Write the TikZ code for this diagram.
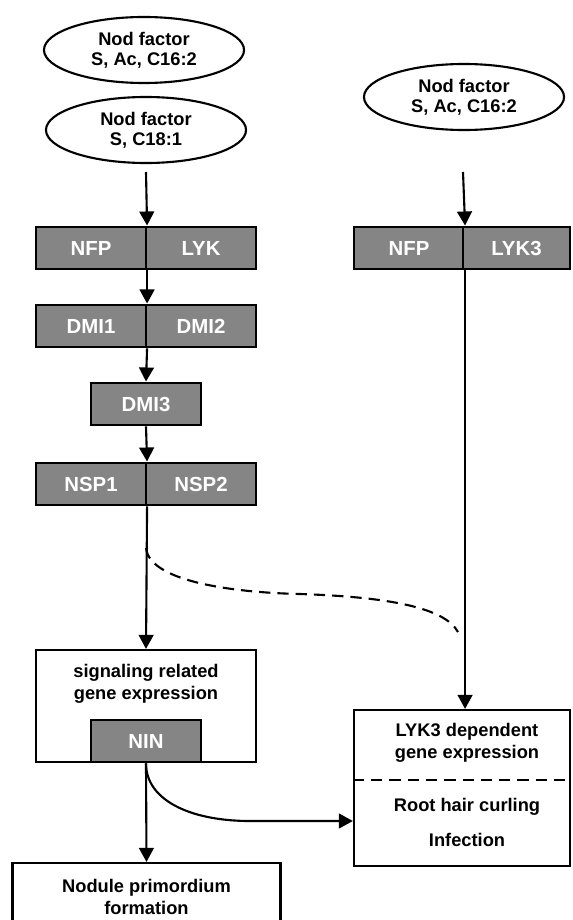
\documentclass[tikz,border=0pt]{standalone}
\usepackage{fontspec}
\setmainfont{Liberation Sans}
\usetikzlibrary{arrows.meta,shapes.geometric}
\definecolor{genegray}{RGB}{133,133,133}
\begin{document}
\begin{tikzpicture}[x=0.025cm,y=-0.025cm,line width=1.5pt,
    nod node/.style={ellipse,draw,minimum width=5cm,minimum height=1.65cm,inner sep=0pt,align=center,font=\fontsize{13}{14.5}\selectfont\bfseries},
    gene node/.style={rectangle,draw,fill=genegray,minimum width=2.75cm,minimum height=1.07cm,inner sep=0pt,text=white,font=\fontsize{14.5}{16}\selectfont\bfseries},
    out node/.style={rectangle,draw,align=center,inner sep=0pt,font=\fontsize{13}{14.5}\selectfont\bfseries},
    arr/.style={-{Triangle[length=10pt,width=10.5pt]}}]
                \useasboundingbox (0,0) rectangle (572,920);
                \clip (0,0) rectangle (572,920);

                \node[nod node] at (144, 50) (nfa) {Nod factor\\S, Ac, C16:2};
                \node[nod node] at (146, 130) (nfb) {Nod factor\\S, C18:1};
                \node[nod node] at (464, 97) (nfc) {Nod factor\\S, Ac, C16:2};

                \node[gene node] at (91, 248) (nfp) {NFP};
                \node[gene node] at (201, 248) (lyk) {LYK};
                \node[gene node] at (409, 248) (nfpb) {NFP};
                \node[gene node,minimum width=2.675cm] at (516.5, 248) (lykc) {LYK3};
                \node[gene node] at (91, 326) (dmia) {DMI1};
                \node[gene node] at (201, 326) (dmib) {DMI2};
                \node[gene node] at (146, 404) (dmic) {DMI3};
                \node[gene node] at (91, 484) (nspa) {NSP1};
                \node[gene node] at (201, 484) (nspb) {NSP2};

                \node[out node,minimum width=5.5cm,minimum height=2.8cm] at (146, 706) (sig) {};
                \node[font=\fontsize{13}{15.5}\selectfont\bfseries,align=center] at (146, 684) {signaling related\\gene expression};
                \node[gene node] at (146, 741) (nin) {NIN};

                \node[out node,minimum width=5.4cm,minimum height=3.9cm] at (462, 788) (lykdep) {};
                \node[font=\fontsize{13}{15.5}\selectfont\bfseries,align=center] at (467, 743) {LYK3 dependent\\gene expression};
                \node[font=\fontsize{13}{14.5}\selectfont\bfseries] at (467, 807) (curl) {Root hair curling};
                \node[font=\fontsize{13}{14.5}\selectfont\bfseries] at (467, 840) (inf) {Infection};

                \node[out node,minimum width=6.7cm,minimum height=2cm] at (146.5, 903) (nod) {};
                \node[font=\fontsize{13}{15.5}\selectfont\bfseries,align=center] at (146.5, 897) {Nodule primordium\\formation};

                \coordinate (top) at (146, 172);
                \coordinate (topc) at (463, 172);
                \coordinate (dstart) at (146, 548);
                \coordinate (dend) at (458, 632);
                \coordinate (bend) at (250, 821);

                \draw[arr] (top) -- (nfp.north east);
                \draw[arr] (topc) -- (nfpb.north east);
                \draw[arr] (nfp.south east) -- (dmia.north east);
                \draw[arr] (dmia.south east) -- (dmic.north);
                \draw[arr] (dmic.south) -- (nspa.north east);
                \draw[arr] (nspa.south east) -- (sig.north);
                \draw[arr] (nfpb.south east) -- (nfpb.south east |- lykdep.north);
                \draw[arr] (nin.south) -- (nod.north);
                \draw[arr] (nin.south) .. controls (146, 800) and (190, 821) .. (bend) -- (lykdep.west |- bend);

                \draw[dashed,dash pattern=on 8pt off 5pt] (dstart) .. controls (150, 585) and (250, 593) .. (300, 594) .. controls (390, 597) and (445, 608) .. (dend);
                \draw[dashed,dash pattern=on 8pt off 5pt] (lykdep.west |- 0,780) -- (lykdep.east |- 0,780);
\end{tikzpicture}
\end{document}
